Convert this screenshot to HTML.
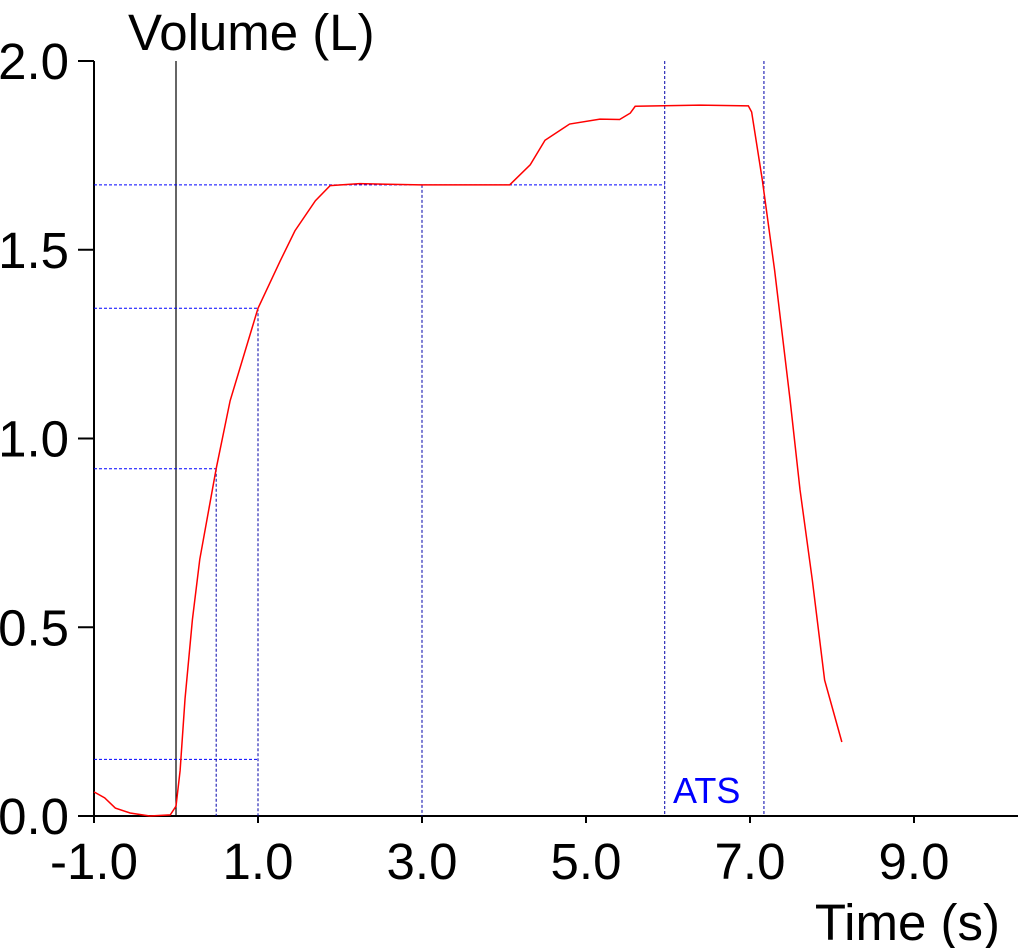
<!DOCTYPE html>
<html><head><meta charset="utf-8"><style>
html,body{margin:0;padding:0;background:#fff}
svg{display:block;font-family:"Liberation Sans",sans-serif}
</style></head><body>
<svg id="chart" width="1018" height="948">
<g id="axes"></g><g id="guides"></g><path id="curve" fill="none" stroke="#f00" stroke-width="1.5"/>
<text x="128" y="50" font-size="51">Volume (L)</text>
<text x="1000" y="940" font-size="51" text-anchor="end">Time (s)</text>
<text x="673" y="803" font-size="36" fill="#00f">ATS</text>
</svg>
<script>
const times=[-1,-0.87,-0.74,-0.56,-0.32,-0.07,0,0.05,0.11,0.2,0.29,0.49,0.66,1.0,1.27,1.45,1.7,1.88,2.24,2.98,4.07,4.32,4.5,4.8,5.17,5.41,5.54,5.6,6.39,6.98,7.02,7.15,7.3,7.49,7.61,7.76,7.91,8.12];
const volumes=[0.064,0.048,0.021,0.008,0,0.003,0.026,0.12,0.31,0.52,0.68,0.92,1.10,1.345,1.47,1.55,1.63,1.67,1.675,1.672,1.672,1.725,1.79,1.833,1.846,1.845,1.862,1.88,1.883,1.881,1.865,1.685,1.446,1.10,0.864,0.625,0.36,0.196];
const xTicks=[-1,1,3,5,7,9];
const xTickLabels=["-1.0","1.0","3.0","5.0","7.0","9.0"];
const yTicks=[0,0.5,1,1.5,2];
const yTickLabels=["0.0","0.5","1.0","1.5","2.0"];
const hGuides=[[1.672,5.96],[1.345,1.0],[0.92,0.49],[0.15,1.0]];
const vGuides=[[0.49,0.92],[1.0,1.345],[3.0,1.672],[5.96,2],[7.17,2]];
const X=t=>176+t*82, Y=v=>816-v*377.5;
const NS="http://www.w3.org/2000/svg";
function mk(tag,attrs,parent){const e=document.createElementNS(NS,tag);for(const k in attrs)e.setAttribute(k,attrs[k]);parent.appendChild(e);return e;}
const ax=document.getElementById('axes'), gd=document.getElementById('guides');
let e=mk('line',{x1:78,y1:816,x2:1018,y2:816,stroke:'#000','stroke-width':2},ax);


e=mk('line',{x1:94,y1:61,x2:94,y2:822,stroke:'#000','stroke-width':2},ax);


e=mk('line',{x1:X(0),y1:61,x2:X(0),y2:816,stroke:'#000','stroke-width':1.2},ax);


xTicks.forEach((t,i)=>{
 mk('line',{x1:X(t),y1:816,x2:X(t),y2:823,stroke:'#000','stroke-width':2},ax);
 const tx=mk('text',{x:X(t),y:879,'font-size':51,'text-anchor':'middle'},ax);tx.textContent=xTickLabels[i];
 
 
});
yTicks.forEach((v,i)=>{
 mk('line',{x1:78,y1:Y(v),x2:94,y2:Y(v),stroke:'#000','stroke-width':2},ax);
 const tx=mk('text',{x:69,y:Y(v)+18,'font-size':51,'text-anchor':'end'},ax);tx.textContent=yTickLabels[i];
 
 
});
hGuides.forEach(g=>{
 const l=mk('line',{x1:94,y1:Y(g[0]),x2:X(g[1]),y2:Y(g[0]),stroke:'#00f','stroke-width':1,'stroke-dasharray':'3,2'},gd);
 
 
});
vGuides.forEach(g=>{
 const l=mk('line',{x1:X(g[0]),y1:Y(g[1]),x2:X(g[0]),y2:816,stroke:'#00a','stroke-width':1,'stroke-dasharray':'3,2'},gd);
 
 
});
document.getElementById('curve').setAttribute('d',times.map((t,i)=>(i?'L':'M')+X(t)+','+Y(volumes[i])).join(''));
</script>
</body></html>
